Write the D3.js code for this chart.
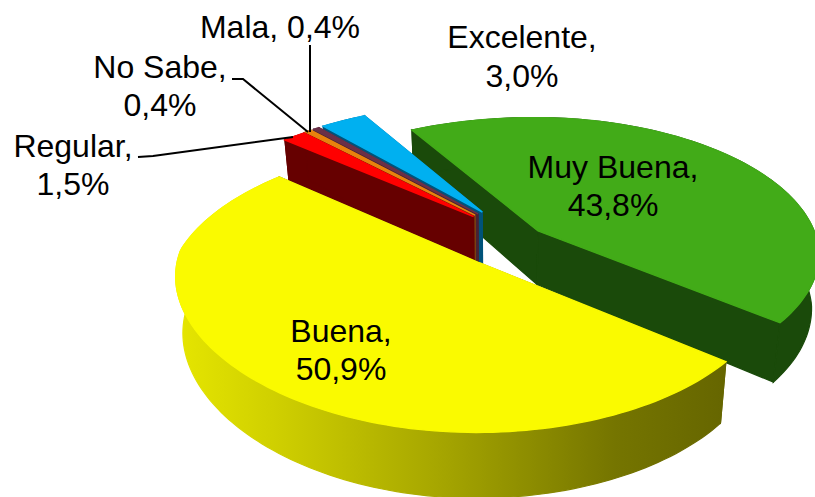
<!DOCTYPE html>
<html>
<head>
<meta charset="utf-8">
<script src="https://cdnjs.cloudflare.com/ajax/libs/d3/7.8.5/d3.min.js"></script>
<style>
    html, body { margin: 0; padding: 0; background: #fff; }
    text { font-family: "Liberation Sans", Arial, sans-serif; font-size: 32px; fill: #000; }
</style>
</head>
<body>
<svg id="chart" width="815" height="497"></svg>
<script>
// Data, clockwise from the front of the pie
const categories = ["Buena", "Regular", "No Sabe", "Mala", "Excelente", "Muy Buena"];
const values = [50.9, 1.5, 0.4, 0.4, 3.0, 43.8];
const labelTexts = ["50,9%", "1,5%", "0,4%", "0,4%", "3,0%", "43,8%"];

// Styles
const topColors = ["#fafa00", "#ff0000", "#e8820e", "#6b3048", "#00b0f0", "#42ab18"];
const wallColors = ["url(#wall-yellow)", "#660000", "#7a4210", "#4a2233", "#00537a", "#1a4a0a"];
const sliceOffsets = [[-0.095, 0.09], [-0.12, -0.25], [-0.115, -0.26], [-0.105, -0.27], [-0.09, -0.285], [0.109, -0.14]];
const labelAnchors = [[341, 342], [73, 157], [160, 78], [280, 38], [522, 48], [613, 178]];
const leaders = [
    null,
    [[138, 157], [153, 156], [293, 137]],
    [[232, 79], [243, 79], [308, 132]],
    [[310, 45], [310, 132]],
    null, null
];

// Projection of the tilted disc
const CX = 508, CY = 250, RX_LEFT = 300, RX_RIGHT = 283, RY = 140;
const PERSP_BACK = 0.18, PERSP_FRONT = 0.15, LEFT_NARROW = 20;
const DEPTH = 55, VANISH_X = 490, BOTTOM_SCALE = 0.977;
const START_ANGLE = 38.5 * Math.PI / 180;

function project(u, v, bottom) {
    const w = 1 - (v < 0 ? PERSP_BACK : PERSP_FRONT) * v;
    const rx = u < 0 ? RX_LEFT - LEFT_NARROW * Math.max(v, 0) : RX_RIGHT;
    const x = CX + rx * u / w;
    const y = CY + RY * v / w;
    if (!bottom) return [x, y];
    return [VANISH_X + (x - VANISH_X) * BOTTOM_SCALE, y + DEPTH / w];
}

const svg = d3.select("#chart");

const pie = d3.pie().sort(null)
    .startAngle(START_ANGLE)
    .endAngle(START_ANGLE + 2 * Math.PI);
const arcs = pie(values);

const line = d3.line();

const grad = svg.append("defs").append("linearGradient")
    .attr("id", "wall-yellow")
    .attr("gradientUnits", "userSpaceOnUse")
    .attr("x1", 176).attr("x2", 724).attr("y1", 0).attr("y2", 0);
[[0, "#e6e600"], [0.2, "#cdcd00"], [0.5, "#a3a300"], [0.8, "#757500"], [1, "#666600"]].forEach(s => {
    grad.append("stop").attr("offset", s[0]).attr("stop-color", s[1]);
});

function rimPoints(d, i, bottom) {
    const off = sliceOffsets[i];
    const n = Math.max(2, Math.ceil((d.endAngle - d.startAngle) * 40));
    return d3.range(n + 1).map(j => {
        const a = d.startAngle + (d.endAngle - d.startAngle) * j / n;
        return project(off[0] + Math.cos(a), off[1] + Math.sin(a), bottom);
    });
}

// Painted from back to front
d3.range(arcs.length).reverse().forEach(i => {
    const d = arcs[i], off = sliceOffsets[i];
    const topRim = rimPoints(d, i, false), botRim = rimPoints(d, i, true);
    const apexTop = project(off[0], off[1], false), apexBot = project(off[0], off[1], true);
    const g = svg.append("g").attr("class", "slice");
    const last = topRim.length - 1;
    const radialColor = i === 0 ? "#666600" : wallColors[i];

    // radial walls
    [[topRim[0], botRim[0]], [topRim[last], botRim[last]]].forEach(e => {
        g.append("path")
            .attr("d", line([apexTop, e[0], e[1], apexBot]) + "Z")
            .attr("fill", radialColor)
            .attr("stroke", radialColor)
            .attr("stroke-width", 1.2);
    });
    // outer wall
    g.append("path")
        .attr("d", line(topRim.concat(botRim.slice().reverse())) + "Z")
        .attr("fill", wallColors[i])
        .attr("stroke", wallColors[i])
        .attr("stroke-width", 1.2);
    // top face, its stroke hides the wall stroke along the back rim
    g.append("path")
        .attr("d", line([apexTop].concat(topRim)) + "Z")
        .attr("fill", topColors[i])
        .attr("stroke", topColors[i])
        .attr("stroke-width", 1.4);
});

leaders.forEach(pts => {
    if (!pts) return;
    svg.append("path")
        .attr("d", line(pts))
        .attr("fill", "none")
        .attr("stroke", "#000")
        .attr("stroke-width", 2);
});

categories.forEach((c, i) => {
    const a = labelAnchors[i];
    if (c === "Mala") {
        svg.append("text").attr("x", a[0]).attr("y", a[1]).attr("text-anchor", "middle")
            .text(c + ", " + labelTexts[i]);
        return;
    }
    const t = svg.append("text").attr("text-anchor", "middle");
    t.append("tspan").attr("x", a[0]).attr("y", a[1]).text(c + ",");
    t.append("tspan").attr("x", a[0]).attr("y", a[1] + (c === "Excelente" ? 39 : 37.5)).text(labelTexts[i]);
});
</script>
</body>
</html>
